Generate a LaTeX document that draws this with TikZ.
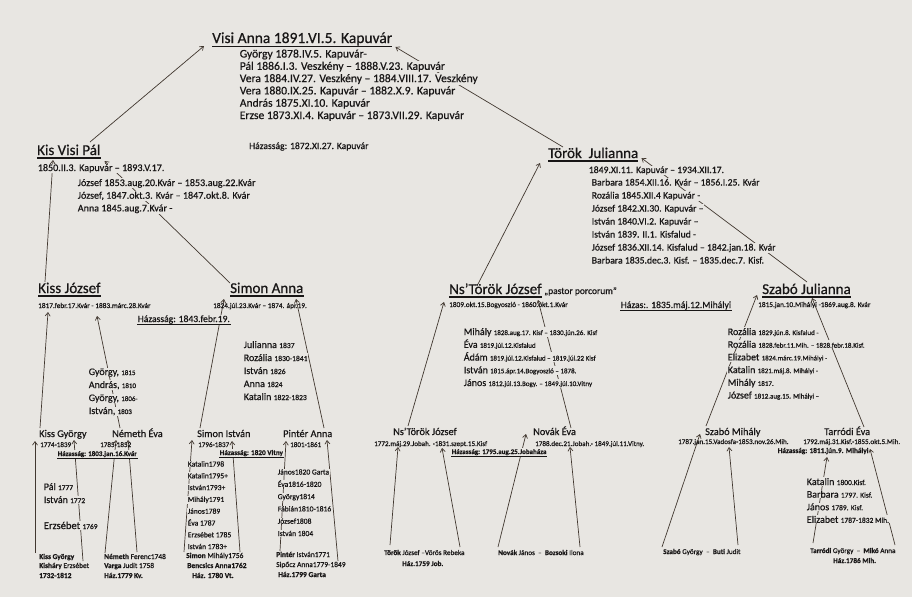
\documentclass[tikz,border=0pt]{standalone}
\usepackage{fontspec}
\setmainfont{Carlito}[FakeBold=0.6]
\usetikzlibrary{arrows.meta}
\definecolor{paper}{RGB}{232,230,226}
\definecolor{ink}{RGB}{24,22,22}
\definecolor{wire}{RGB}{66,56,48}
\newcommand\myfs[1]{\fontsize{#1}{#1}\selectfont}
\newcommand\dd[1]{{\myfs{7}#1}}
\newcommand\ulnode[3]{\draw[ink, line width=#2] ([yshift=-#3]#1.base west) -- ([yshift=-#3]#1.base east);}
\pgfdeclarelayer{paperlayer}
\pgfdeclarelayer{wires}
\pgfsetlayers{paperlayer,wires,main}
\begin{document}
\begin{tikzpicture}[x=1pt,y=-1pt,
 every node/.style={text=ink, inner sep=0pt, anchor=base west},
 t1/.style={font=\myfs{15.5}},
 t2/.style={font=\myfs{15}},
 t4/.style={font=\myfs{10.3}},
 dt/.style={font=\myfs{7.3}},
 dt4/.style={font=\myfs{7.1}},
 ls/.style={font=\myfs{10}, fill=paper, inner sep=0.6pt},
 lsA/.style={ls, font=\myfs{11.6}},
 lsB/.style={ls, font=\myfs{10.1}},
 lsC/.style={ls, font=\myfs{9.7}},
 lsS/.style={ls, font=\myfs{7.6}},
 hz/.style={font=\myfs{9.6}, fill=paper, inner sep=0.6pt},
 hz4/.style={font=\myfs{7}\bfseries, fill=paper, inner sep=0.6pt},
 bt/.style={font=\myfs{7.4}},
 bt6/.style={font=\myfs{7.2}},
 arr/.style={draw=wire, line width=0.7pt, -{Straight Barb[length=3.5pt,width=5pt]}}
]
\useasboundingbox (0,0) rectangle (912,597);
\begin{pgfonlayer}{paperlayer}
\fill[paper] (0,0) rectangle (912,597);
\end{pgfonlayer}

% ---------- generation 1
\node[t1] (va) at (212,43) {Visi Anna 1891.VI.5. Kapuvár};
\ulnode{va}{1.1pt}{3.5pt}
\foreach \t [count=\i from 0] in {{György 1878.IV.5. Kapuvár-},{Pál 1886.I.3. Veszkény – 1888.V.23. Kapuvár},{Vera 1884.IV.27. Veszkény – 1884.VIII.17. Veszkény},{Vera 1880.IX.25. Kapuvár – 1882.X.9. Kapuvár},{András 1875.XI.10. Kapuvár},{Erzse 1873.XI.4. Kapuvár – 1873.VII.29. Kapuvár}}
  \node[lsA] (val\i) at (239,{57.5+12.3*\i}) {\t};
\node[font=\myfs{9.6}] (vah) at (249,149) {Házasság: 1872.XI.27. Kapuvár};

% ---------- generation 2
\node[t2] (kvp) at (37,155) {Kis Visi Pál};
\ulnode{kvp}{1.1pt}{3pt}
\node[lsB] (kvpd) at (37,171) {1850.II.3. Kapuvár – 1893.V.17.};
\foreach \t [count=\i from 0] in {{József 1853.aug.20.Kvár – 1853.aug.22.Kvár},{József, 1847.okt.3. Kvár – 1847.okt.8. Kvár},{Anna 1845.aug.7.Kvár -}}
  \node[lsB] (kvpl\i) at (77,{186+12.7*\i}) {\t};

\node[t2] (tj) at (548,158) {Török\ \ Julianna};
\ulnode{tj}{1.1pt}{3pt}
\node[lsC] (tjd) at (588,173) {1849.XI.11. Kapuvár – 1934.XII.17.};
\foreach \t [count=\i from 0] in {{Barbara 1854.XII.16. Kvár – 1856.I.25. Kvár},{Rozália 1845.XII.4 Kapuvár -},{József 1842.XI.30. Kapuvár –},{István 1840.VI.2. Kapuvár –},{István 1839. II.1. Kisfalud -},{József 1836.XII.14. Kisfalud – 1842.jan.18. Kvár},{Barbara 1835.dec.3. Kisf. – 1835.dec.7. Kisf.}}
  \node[lsC] (tjl\i) at (591,{185.5+13*\i}) {\t};

% ---------- generation 3
\node[t2] (kj) at (38,293) {Kiss József};
\ulnode{kj}{1.1pt}{3pt}
\node[dt] (kjd) at (38,308) {1817.febr.17.Kvár - 1883.márc.28.Kvár};
\node[hz] (hk) at (137,322) {Házasság: 1843.febr.19.};
\ulnode{hk}{0.8pt}{2.2pt}
\foreach \t [count=\i from 0] in {{György, \dd{1815}},{András, \dd{1810}},{György, \dd{1806-}},{István, \dd{1803}}}
  \node[ls] (kjl\i) at (88,{375+13*\i}) {\t};

\node[t2] (sa) at (230,293) {Simon Anna};
\ulnode{sa}{1.1pt}{3pt}
\node[dt] (sad) at (213,308) {1824.júl.23.Kvár – 1874. ápr.19.};
\foreach \t [count=\i from 0] in {{Julianna {\myfs{7.6}1837}},{Rozália {\myfs{7.6}1830-1841}},{István {\myfs{7.6}1826}},{Anna {\myfs{7.6}1824}},{Katalin {\myfs{7.6}1822-1823}}}
  \node[ls] (sal\i) at (243,{348+13*\i}) {\t};

\node[t2] (nt) at (449,294) {Ns’Török József};
\ulnode{nt}{1.1pt}{3pt}
\node[font=\myfs{9.5}] (pastor) at (544,294) {„pastor porcorum”};
\node[dt] (ntd) at (449,307) {1809.okt.15.Bogyoszló - 1860.okt.1.Kvár};
\foreach \t [count=\i from 0] in {{Mihály \dd{1828.aug.17. Kisf – 1830.jún.26. Kisf}},{Éva \dd{1819.júl.12.Kisfalud}},{Ádám \dd{1819.júl.12.Kisfalud – 1819.júl.22 Kisf}},{István \dd{1815.ápr.14.Bogyoszló – 1878.}},{János \dd{1812.júl.13.Bogy. – 1849.júl.10.Vitny}}}
  \node[ls] (ntl\i) at (463,{335+12.75*\i}) {\t};
\node[hz] (hsz) at (620,308) {Házas:. 1835.máj.12.Mihályi};
\ulnode{hsz}{0.8pt}{2.2pt}

\node[t2] (szj) at (762,294) {Szabó Julianna};
\ulnode{szj}{1.1pt}{3pt}
\node[dt] (szjd) at (758,307) {1815.jan.10.Mihályi -1869.aug.8. Kvár};
\foreach \t [count=\i from 0] in {{Rozália \dd{1829.jún.8. Kisfalud -}},{Rozália \dd{1828.febr.11.Mih. – 1828.febr.18.Kisf.}},{Elizabet \dd{1824.márc.19.Mihályi -}},{Katalin \dd{1821.máj.8. Mihályi -}},{Mihály \dd{1817.}},{József \dd{1812.aug.15. Mihályi –}}}
  \node[ls] (szjl\i) at (727,{335+12.7*\i}) {\t};

% ---------- generation 4
\node[t4] (kgy) at (39,437) {Kiss György};
\node[dt4] (kgyd) at (40,447) {1774-1839};
\node[t4] (ne) at (112,437) {Németh Éva};
\node[dt4] (ned) at (100,447) {1785-1852};
\node[hz4] (hkg) at (57,456) {Házasság: 1803.jan.16.Kvár};
\ulnode{hkg}{0.7pt}{2pt}
\node[ls] (kgl0) at (43,490) {Pál {\myfs{7.4}1777}};
\node[ls] (kgl1) at (43,503) {István {\myfs{7.4}1772}};
\node[ls, font=\myfs{10.5}] (kgl2) at (43,529) {Erzsébet {\myfs{7.4}1769}};
\node[bt] (kg1) at (39,559) {\textbf{Kiss György}};
\node[bt] (kg2) at (39,568) {\textbf{Kisháry} Erzsébet};
\node[bt] (kg3) at (39,578) {\textbf{1732-1812}};
\node[bt] (nf1) at (104,559) {\textbf{Németh} Ferenc1748};
\node[bt] (nf2) at (104,568) {\textbf{Varga} Judit 1758};
\node[bt] (nf3) at (104,578) {\textbf{Ház.1779 Kv.}};

\node[t4] (si) at (197,437) {Simon István};
\node[dt4] (sid) at (198,447) {1796-1837};
\node[t4] (pa) at (283,437) {Pintér Anna};
\node[dt4] (pad) at (290,447) {1801-1861};
\node[hz4, font=\myfs{7.2}\bfseries] (hsi) at (219,455) {Házasság: 1820 Vitny};
\ulnode{hsi}{0.7pt}{2pt}
\foreach \t [count=\i from 0] in {{Katalin1798},{Katalin1795+},{István1793+},{Mihály1791},{János1789},{Éva 1787},{Erzsébet 1785},{István 1783+}}
  \node[lsS] (sil\i) at (187,{466.5+11.8*\i}) {\t};
\foreach \t [count=\i from 0] in {{János1820 Garta},{Éva1816-1820},{György1814},{Fábián1810-1816},{József1808},{István 1804}}
  \node[lsS] (pal\i) at (277,{474.5+12.3*\i}) {\t};
\node[font=\myfs{7.5}] (sm1) at (186,558) {\textbf{Simon} Mihály1756};
\node[font=\myfs{7.5}] (sm2) at (187,568) {\textbf{Bencsics Anna1762}};
\node[font=\myfs{7.5}] (sm3) at (192,578) {\textbf{Ház. 1780 Vt.}};
\node[font=\myfs{7.5}] (pi1) at (276,557) {\textbf{Pintér} István1771};
\node[font=\myfs{7.5}] (pi2) at (276,567) {Sipőcz Anna1779-1849};
\node[font=\myfs{7.5}] (pi3) at (278,577) {\textbf{Ház.1799 Garta}};

\node[t4] (nt4) at (393,435) {Ns’Török József};
\node[dt4] (nt4d) at (374,446) {1772.máj.29.Jobah. -1831.szept.15.Kisf};
\node[t4] (nov) at (533,435) {Novák Éva};
\node[dt4] (novd) at (535,446) {1788.dec.21.Jobah.- 1849.júl.11.Vitny.};
\node[hz4] (hnt) at (451,454) {Házasság: 1795.aug.25.Jobaháza};
\ulnode{hnt}{0.7pt}{2pt}
\node[bt6] (tv) at (384,555) {\textbf{Török} József –Vörös Rebeka};
\node[bt6] (tv2) at (402,566) {\textbf{Ház.1759 Job.}};
\node[bt6] (nb) at (498,555) {\textbf{Novák} János\ \ –\ \ \textbf{Bozsoki} Ilona};

\node[t4] (szm) at (705,435) {Szabó Mihály};
\node[dt4] (szmd) at (678,444) {1787.jan.15.Vadosfa-1853.nov.26.Mih.};
\node[t4] (ta) at (824,435) {Tarródi Éva};
\node[dt4] (tad) at (803,444) {1792.máj.31.Kisf.-1855.okt.5.Mih.};
\node[hz4, font=\myfs{7.3}\bfseries] (hta) at (777,453) {Házasság: 1811.jún.9. Mihályi};
\foreach \t [count=\i from 0] in {{Katalin {\myfs{7.5}1800.Kisf.}},{Barbara {\myfs{7.5}1797. Kisf.}},{János {\myfs{7.5}1789. Kisf.}},{Elizabet {\myfs{7.5}1787-1832 Mih.}}}
  \node[ls] (tal\i) at (806,{485+12.6*\i}) {\t};
\node[bt6] (sb) at (663,554) {\textbf{Szabó} György\ \ –\ \ \textbf{Buti} Judit};
\node[bt6] (tb) at (810,553) {\textbf{Tarródi} György\ \ –\ \ \textbf{Mikó} Anna};
\node[bt6] (tb2) at (833,563) {\textbf{Ház.1786 Mih.}};

% ---------- connectors
\begin{pgfonlayer}{wires}
\draw[arr] ([shift={(53,-13)}]kvp.base west) -- ([shift={(-8,3)}]va.base west);
\draw[arr] ([shift={(15,-11)}]tj.base west) -- ([shift={(3,4)}]va.base east);
\draw[arr] ([shift={(7,-11)}]kj.base west) -- ([shift={(16,5)}]kvp.base west);
\draw[arr] ([shift={(0,-10)}]sa.base west) -- ([shift={(4,6)}]kvp.base east);
\draw[arr] ([shift={(29,-10)}]nt.base west) -- ([shift={(-8,5)}]tj.base west);
\draw[arr] ([shift={(45,-12)}]szj.base west) -- ([shift={(3,0)}]tj.base east);
\draw[arr] ([shift={(1,-9)}]kgy.base west) -- ([shift={(10,19)}]kj.base west);
\draw[arr] ([shift={(8,-9)}]ne.base west) -- ([shift={(59,23)}]kj.base west);
\draw[arr] ([shift={(1,-6)}]nf1.base west) -- ([shift={(4,3)}]ne.base west);
\draw[arr] ([shift={(33,-16)}]nf2.base west) -- ([shift={(16,3)}]ne.base west);
\draw[arr] ([shift={(-4,-6)}]kg1.base west) -- ([shift={(-4,4)}]kgy.base west);
\draw[arr] ([shift={(44,-7)}]kg2.base west) -- ([shift={(35,3)}]kgy.base west);
\draw[arr] ([shift={(-2,-6)}]sm1.base west) -- ([shift={(-5,3)}]si.base west);
\draw[arr] ([shift={(53,-16)}]sm2.base west) -- ([shift={(35,4)}]si.base west);
\draw[arr] ([shift={(4,-6)}]pi1.base west) -- ([shift={(3,4)}]pa.base west);
\draw[arr] ([shift={(62,-6)}]pi2.base west) -- ([shift={(44,3)}]pa.base west);
\draw[arr] ([shift={(3,-9)}]si.base west) -- ([shift={(-6,6)}]sa.base west);
\draw[arr] ([shift={(41,-9)}]pa.base west) -- ([shift={(66,6)}]sa.base west);
\draw[arr] ([shift={(15,-9)}]nt4.base west) -- ([shift={(-5,8)}]nt.base west);
\draw[arr] ([shift={(38,-7)}]nov.base west) -- ([shift={(89,6)}]nt.base west);
\draw[arr] ([shift={(6,-10)}]tv.base west) -- ([shift={(5,12)}]nt4.base west);
\draw[arr] ([shift={(76,-8)}]tv.base west) -- ([shift={(49,13)}]nt4.base west);
\draw[arr] ([shift={(0,-8)}]nb.base west) -- ([shift={(-7,-1)}]nov.base west);
\draw[arr] ([shift={(82,-8)}]nb.base west) -- ([shift={(37,12)}]nov.base west);
\draw[arr] ([shift={(-1,-7)}]sb.base west) -- ([shift={(-5,-1)}]szm.base west);
\draw[arr] ([shift={(75,-9)}]sb.base west) -- ([shift={(24,12)}]szm.base west);
\draw[arr] ([shift={(1,-9)}]szm.base west) -- ([shift={(-5,1)}]szj.base west);
\draw[arr] ([shift={(40,-8)}]ta.base west) -- ([shift={(50,4)}]szj.base west);
\draw[arr] ([shift={(3,-10)}]tb.base west) -- ([shift={(3,22)}]ta.base west);
\draw[arr] ([shift={(85,-8)}]tb.base west) -- ([shift={(46,14)}]ta.base west);
\end{pgfonlayer}
\end{tikzpicture}
\end{document}
